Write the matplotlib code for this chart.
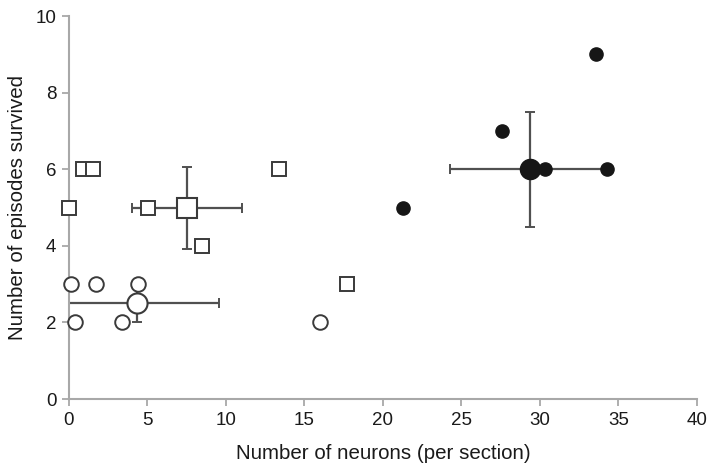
import matplotlib
matplotlib.use('Agg')
import matplotlib.pyplot as plt

plt.rcParams['font.family'] = ['Liberation Sans', 'DejaVu Sans']

# open circles
circle_x = [0.1, 1.7, 4.4, 0.4, 3.35, 16.0]
circle_y = [3, 3, 3, 2, 2, 2]
circle_mean = (4.35, 2.5)
circle_xerr = 5.2
circle_yerr = 0.5

# open squares
square_x = [0.0, 0.9, 1.5, 5.05, 13.35, 8.5, 17.7]
square_y = [5, 6, 6, 5, 6, 4, 3]
square_mean = (7.5, 5.0)
square_xerr = 3.5
square_yerr = 1.07

# filled circles
filled_x = [21.3, 27.6, 30.3, 33.6, 34.25]
filled_y = [5, 7, 6, 9, 6]
filled_mean = (29.4, 6.0)
filled_xerr = 5.15
filled_yerr = 1.5

x_ticks = [0, 5, 10, 15, 20, 25, 30, 35, 40]
y_ticks = [0, 2, 4, 6, 8, 10]

edge = '#3a3a3a'
bar_color = '#505050'
spine_color = '#a8a8a8'
text_color = '#1a1a1a'

fig = plt.figure(figsize=(7.14, 4.73), dpi=100)
ax = fig.add_axes([0.0966, 0.1564, 0.8794, 0.8096])

# error bars of the group means
for (mx, my), xe, ye in [(circle_mean, circle_xerr, circle_yerr),
                         (square_mean, square_xerr, square_yerr),
                         (filled_mean, filled_xerr, filled_yerr)]:
    ax.errorbar(mx, my, xerr=xe, yerr=ye, fmt='none', ecolor=bar_color,
                elinewidth=1.6, capsize=3.5, capthick=1.4, zorder=2)

ax.plot(circle_x, circle_y, 'o', ms=10.5, mfc='white', mec=edge, mew=1.4,
        clip_on=False, zorder=3)
ax.plot(*circle_mean, 'o', ms=14.5, mfc='white', mec=edge, mew=1.5,
        clip_on=False, zorder=4)

ax.plot(square_x, square_y, 's', ms=10, mfc='white', mec=edge, mew=1.4,
        clip_on=False, zorder=3)
ax.plot(*square_mean, 's', ms=14, mfc='white', mec=edge, mew=1.5,
        clip_on=False, zorder=4)

ax.plot(filled_x, filled_y, 'o', ms=9.5, mfc='#161616', mec='#161616',
        clip_on=False, zorder=3)
ax.plot(*filled_mean, 'o', ms=14.5, mfc='#161616', mec='#161616',
        clip_on=False, zorder=4)

ax.set_xlim(0, 40)
ax.set_ylim(0, 10)
ax.set_xticks(x_ticks)
ax.set_yticks(y_ticks)

for side in ['top', 'right']:
    ax.spines[side].set_visible(False)
for side in ['left', 'bottom']:
    ax.spines[side].set_color(spine_color)
    ax.spines[side].set_linewidth(1.5)
ax.tick_params(direction='out', length=5, width=1.3, color=spine_color,
               labelsize=13.5, labelcolor=text_color, pad=4)

ax.set_xlabel('Number of neurons (per section)', fontsize=14.8, color=text_color, labelpad=11)
ax.set_ylabel('Number of episodes survived', fontsize=14.8, color=text_color, labelpad=6)

fig.savefig('out.png', dpi=100)
